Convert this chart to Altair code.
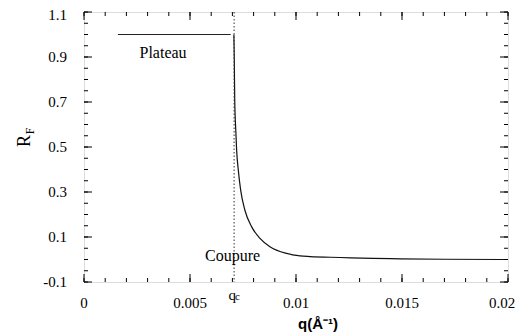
import altair as alt
import pandas as pd

# ---- data ----
plateau_q = [0.0016, 0.00692]
plateau_r = [1.0, 1.0]

curve_q = [0.00707, 0.00709, 0.00711, 0.00716, 0.00720, 0.00728, 0.00739, 0.00759,
           0.00791, 0.00830, 0.00877, 0.00956, 0.01019, 0.01066, 0.01208, 0.01363,
           0.0149, 0.0170, 0.0200]
curve_r = [1.0, 0.88, 0.71, 0.573, 0.485, 0.396, 0.308, 0.219,
           0.145, 0.094, 0.057, 0.027, 0.016, 0.013, 0.009, 0.005,
           0.003, 0.001, 0.0]

qc = 0.00708

x_labels = [0, 0.005, 0.01, 0.015]
x_label_text = ["0", "0.005", "0.01", "0.015"]
x_last_label = [0.02]
x_last_text = ["0.02"]
y_labels = [-0.1, 0.1, 0.3, 0.5, 0.7, 0.9]
y_label_text = ["-0.1", "0.1", "0.3", "0.5", "0.7", "0.9"]
y_top_label = [1.1]
y_top_text = ["1.1"]
x_minor = [i / 1000 for i in range(21)]
y_minor = [round(-0.1 + i * 0.05, 2) for i in range(25)]

W, H = 424, 270
SERIF = "'Liberation Serif', 'Times New Roman', Times, serif"
SANS = "'Liberation Sans', Arial, Helvetica, sans-serif"

xs = alt.Scale(domain=[0, 0.02], nice=False, zero=False)
ys = alt.Scale(domain=[-0.1, 1.1], nice=False, zero=False)


def X(f):
    return alt.X(f, scale=xs, axis=None)


def Y(f):
    return alt.Y(f, scale=ys, axis=None)


plateau_df = pd.DataFrame({"q": plateau_q, "r": plateau_r})
curve_df = pd.DataFrame({"q": curve_q, "r": curve_r, "o": list(range(len(curve_q)))})

plateau = alt.Chart(plateau_df).mark_line(color="#222", strokeWidth=1.2).encode(
    x=X("q:Q"), y=Y("r:Q"))

curve = alt.Chart(curve_df).mark_line(color="#111", strokeWidth=1.2, interpolate="monotone").encode(
    x=X("q:Q"), y=Y("r:Q"), order="o:Q")

qc_df = pd.DataFrame({"q": [qc]})
qc_rule = alt.Chart(qc_df).mark_rule(color="#333", strokeWidth=1, strokeDash=[1.5, 2]).encode(
    x=X("q:Q"), y=alt.value(0), y2=alt.value(H))
qc_text = alt.Chart(qc_df).mark_text(font=SERIF, fontSize=15, color="black", baseline="middle",
                                     align="right", dx=2).encode(
    x=X("q:Q"), y=alt.value(H + 13), text=alt.value("q"))
qc_sub = alt.Chart(qc_df).mark_text(font=SERIF, fontSize=11, color="black", baseline="middle",
                                    align="left", dx=1).encode(
    x=X("q:Q"), y=alt.value(H + 15), text=alt.value("c"))

labels_df = pd.DataFrame({"q": [0.00373, 0.00701], "r": [0.919, 0.016], "t": ["Plateau", "Coupure"]})
labels = alt.Chart(labels_df).mark_text(font=SERIF, fontSize=16, color="black", baseline="middle").encode(
    x=X("q:Q"), y=Y("r:Q"), text="t:N")

# tick labels
xl_df = pd.DataFrame({"q": x_labels, "t": x_label_text})
x_tick_labels = alt.Chart(xl_df).mark_text(font=SERIF, fontSize=15, color="black", baseline="middle").encode(
    x=X("q:Q"), y=alt.value(H + 21), text="t:N")
xll_df = pd.DataFrame({"q": x_last_label, "t": x_last_text})
x_last_tick_label = alt.Chart(xll_df).mark_text(font=SERIF, fontSize=15, color="black",
                                                baseline="middle", dx=-6).encode(
    x=X("q:Q"), y=alt.value(H + 21), text="t:N")
yl_df = pd.DataFrame({"r": y_labels, "t": y_label_text})
y_tick_labels = alt.Chart(yl_df).mark_text(font=SERIF, fontSize=15, color="black", baseline="middle",
                                           align="right").encode(
    y=Y("r:Q"), x=alt.value(-17), text="t:N")
yt_df = pd.DataFrame({"r": y_top_label, "t": y_top_text})
y_top_tick_label = alt.Chart(yt_df).mark_text(font=SERIF, fontSize=15, color="black", baseline="middle",
                                              align="right", dy=3).encode(
    y=Y("r:Q"), x=alt.value(-17), text="t:N")


# ticks (inside, on all four sides)
def xticks(vals, length):
    d = pd.DataFrame({"q": vals})
    bottom = alt.Chart(d).mark_rule(color="black", strokeWidth=1).encode(
        x=X("q:Q"), y=alt.value(H), y2=alt.value(H - length))
    top = alt.Chart(d).mark_rule(color="black", strokeWidth=1).encode(
        x=X("q:Q"), y=alt.value(0), y2=alt.value(length))
    return [bottom, top]


def yticks(vals, length):
    d = pd.DataFrame({"r": vals})
    left = alt.Chart(d).mark_rule(color="black", strokeWidth=1).encode(
        y=Y("r:Q"), x=alt.value(0), x2=alt.value(length))
    right = alt.Chart(d).mark_rule(color="black", strokeWidth=1).encode(
        y=Y("r:Q"), x=alt.value(W), x2=alt.value(W - length))
    return [left, right]


ticks = (xticks(x_minor, 4) + xticks(x_labels + x_last_label, 8)
         + yticks(y_minor, 4) + yticks(y_labels + y_top_label, 8))

title_df = pd.DataFrame({"a": [0]})
x_title = alt.Chart(title_df).mark_text(font=SANS, fontSize=15, fontWeight="bold",
                                        color="black", baseline="middle").encode(
    x=alt.value(234), y=alt.value(312), text=alt.value("q(Å⁻¹)"))
y_title_r = alt.Chart(title_df).mark_text(font=SERIF, fontSize=18, color="black", angle=270,
                                          baseline="middle", align="center").encode(
    x=alt.value(-59), y=alt.value(129), text=alt.value("R"))
y_title_f = alt.Chart(title_df).mark_text(font=SERIF, fontSize=12, color="black", angle=270,
                                          baseline="middle", align="center").encode(
    x=alt.value(-54), y=alt.value(119), text=alt.value("F"))

chart = alt.layer(plateau, curve, qc_rule, qc_text, qc_sub, labels, x_tick_labels, x_last_tick_label,
                  y_tick_labels, y_top_tick_label, *ticks, x_title, y_title_r, y_title_f).properties(
    width=W, height=H,
    autosize=alt.AutoSizeParams(type="none"),
    padding={"left": 76, "top": 4, "right": 7, "bottom": 50},
).configure_view(stroke="black", strokeWidth=1).configure(background="white")

chart.save("out.html", embed_options={"renderer": "svg", "actions": False})
